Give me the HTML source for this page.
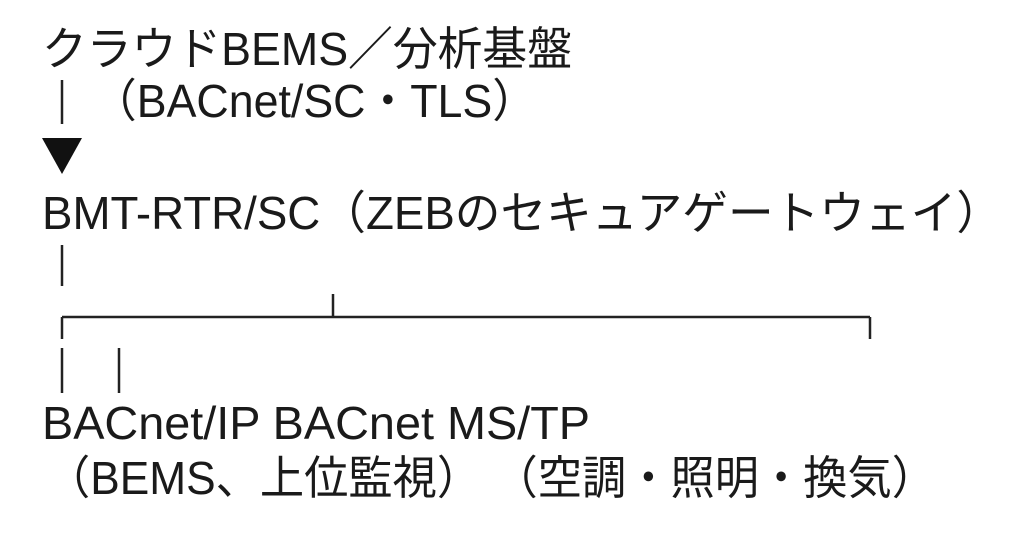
<!DOCTYPE html>
<html><head><meta charset="utf-8">
<style>
html,body{margin:0;padding:0;background:#fff;}
body{width:1024px;height:558px;position:relative;overflow:hidden;}
.t{position:absolute;white-space:nowrap;font-family:"Liberation Sans","Noto Sans CJK JP",sans-serif;font-size:46px;line-height:48px;color:#1a1a1a;transform-origin:0 0;}
svg{position:absolute;left:0;top:0;}
</style></head><body>
<svg width="1024" height="558">
<g stroke="#222" stroke-width="2.5" fill="none">
<line x1="62" y1="80" x2="62" y2="124"/>
<line x1="62" y1="245" x2="62" y2="286"/>
<line x1="62" y1="317" x2="870" y2="317"/>
<line x1="333" y1="294" x2="333" y2="317"/>
<line x1="62" y1="317" x2="62" y2="339"/>
<line x1="870" y1="317" x2="870" y2="339"/>
<line x1="62" y1="348" x2="62" y2="393"/>
<line x1="119" y1="348" x2="119" y2="393"/>
</g>
<polygon points="42,138 82,138 62,174" fill="#111"/>
</svg>
<div class="t" id="a" style="left:42px;top:25px">クラウドBEMS／分析基盤</div>
<div class="t" id="b" style="left:92px;top:77px">（BACnet/SC・TLS）</div>
<div class="t" id="c" style="left:42px;top:189px">BMT-RTR/SC（ZEBのセキュアゲートウェイ）</div>
<div class="t" id="d" style="left:42px;top:399px">BACnet/IP BACnet MS/TP</div>
<div class="t" id="e" style="left:46px;top:454px">（BEMS、上位監視）&nbsp;（空調・照明・換気）</div>
<script>
var W={a:530,b:445,c:960,d:548,e:890};
for(var k in W){var el=document.getElementById(k);var w=el.getBoundingClientRect().width;if(w>0)el.style.transform='scaleX('+(W[k]/w)+')';}
</script>
</body></html>
